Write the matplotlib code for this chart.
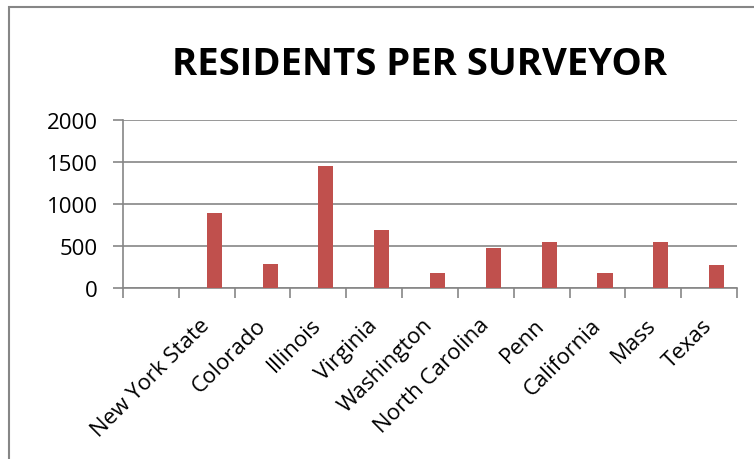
import matplotlib.pyplot as plt
from matplotlib.patches import Rectangle

# Data (first slot is an empty category, as in the original sheet)
states = ["", "New York State", "Colorado", "Illinois", "Virginia", "Washington",
          "North Carolina", "Penn", "California", "Mass", "Texas"]
residents = [0, 890, 285, 1455, 688, 181, 482, 549, 185, 546, 276]
yticks = [0, 500, 1000, 1500, 2000]

GRAY = "#868686"
RED = "#C0504D"
plt.rcParams["font.family"] = ["Open Sans", "DejaVu Sans"]

fig = plt.figure(figsize=(7.54, 4.60), dpi=100)
ax = fig.add_axes([123 / 754, 1 - 289.3 / 460, 614 / 754, 168.6 / 460])

# red series sits in the right half of each category slot
centers = [i + 0.5 for i in range(len(states))]
ax.bar(centers, residents, width=0.27, align="edge", color=RED, zorder=3)

ax.set_xlim(0, len(states))
ax.set_ylim(0, 2000)
ax.set_yticks(yticks)
ax.set_yticklabels([str(v) for v in yticks], fontsize=16)
ax.grid(axis="y", color=GRAY, linewidth=1.2, zorder=0)

ax.set_xticks(range(len(states) + 1))
ax.set_xticklabels([])
ax.set_xticks(centers, minor=True)
ax.set_xticklabels(states, minor=True, rotation=45, ha="right", va="center",
                   rotation_mode="anchor", fontsize=16)
ax.tick_params(axis="x", which="minor", length=0, pad=24)
ax.tick_params(axis="x", which="major", length=7, color=GRAY, width=1.2)
ax.tick_params(axis="y", length=7, color=GRAY, width=1.2, pad=11)

for side in ["top", "right"]:
    ax.spines[side].set_visible(False)
for side in ["left", "bottom"]:
    ax.spines[side].set_color(GRAY)
    ax.spines[side].set_linewidth(1.2)

fig.text(420 / 754, 1 - 65 / 460, "RESIDENTS PER SURVEYOR", fontsize=27.5,
         fontweight="bold", ha="center", va="center")

# chart-area border (runs off the right and bottom of the picture)
fig.patches.append(Rectangle((9 / 754, -0.1), 2, 1.1 - 8 / 460,
                             transform=fig.transFigure, fill=False,
                             edgecolor=GRAY, linewidth=1.5))

fig.savefig("out.png", dpi=100)
